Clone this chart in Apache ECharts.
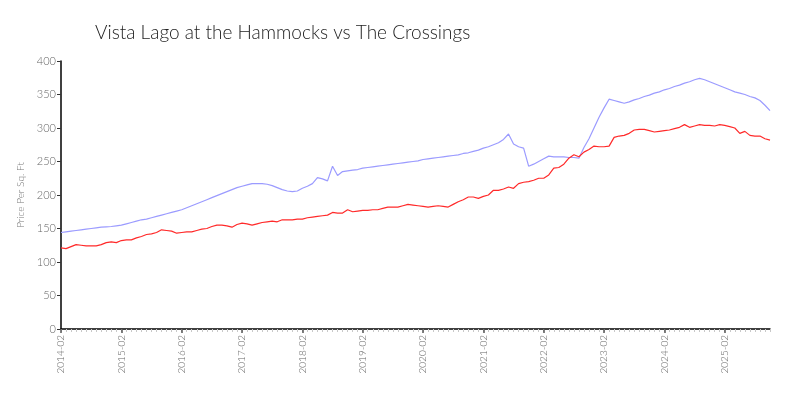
<!DOCTYPE html>
<html>
<head>
<meta charset="utf-8">
<script src="https://cdn.jsdelivr.net/npm/echarts@6/dist/echarts.min.js"></script>
<style>html,body{margin:0;padding:0;background:#fff}#c{width:800px;height:400px}</style>
</head>
<body>
<div id="c"></div>
<script>
// Monthly categories 2014-02 .. 2025-11
const categories = [];
for (let y = 2014; y <= 2025; y++) {
  for (let m = 1; m <= 12; m++) {
    if (y === 2014 && m < 2) continue;
    if (y === 2025 && m > 11) continue;
    categories.push(y + '-' + String(m).padStart(2, '0'));
  }
}

const seriesBlueName = 'Vista Lago at the Hammocks';
const seriesRedName = 'The Crossings';

const blueValues = [
  144,145,146,147,148,149,150,151,152,152.5,153,154,
  155,157,159,161,163,164,166,168,170,172,174,176,
  178,181,184,187,190,193,196,199,202,205,208,211,
  213,215,217,217,217,216,214,211,208,206,205,206,
  210,213,217,226,224,221,243,229,235,236,237,238,
  240,241,242,243,244,245,246,247,248,249,250,251,
  253,254,255,256,257,258,259,260,262,263,265,267,
  270,272,275,278,283,291,276,272,270,243,246,250,
  254,258,257,257,257,256,256,255,271,284,300,316,
  330,343,341,339,337,339,342,344,347,349,352,354,
  357,359,362,364,367,369,372,374,372,369,366,363,
  360,357,354,352,350,347,345,341,334,326
];

const redValues = [
  121,120,123,126,125,124,124,124,126,129,130,129,
  132,133,133,136,138,141,142,144,148,147,146,143,
  144,145,145,147,149,150,153,155,155,154,152,156,
  158,157,155,157,159,160,161,160,163,163,163,164,
  164,166,167,168,169,170,174,173,173,178,175,176,
  177,177,178,178,180,182,182,182,184,186,185,184,
  183,182,183,184,183,182,186,190,193,197,197,195,
  198,200,207,207,209,212,210,217,219,220,222,225,
  225,230,240,241,246,255,260,257,264,268,273,272,
  272,273,286,288,289,292,297,298,298,296,294,295,
  296,297,299,301,305,301,303,305,304,304,303,305,
  304,302,300,292,295,289,288,288,284,282
];

const yTicks = { min: 0, max: 400, interval: 50 };

const chart = echarts.init(document.getElementById('c'), null, { renderer: 'canvas' });
const fontFam = "Lato, 'Open Sans', sans-serif";
chart.setOption({
  animation: false,
  backgroundColor: '#ffffff',
  title: {
    text: 'Vista Lago at the Hammocks vs The Crossings',
    left: 90, top: 18,
    textStyle: { fontFamily: fontFam, fontWeight: 300, fontSize: 19, color: '#222' }
  },
  grid: { left: 61, right: 30, top: 61, bottom: 71 },
  xAxis: [{
    type: 'category',
    data: categories,
    boundaryGap: false,
    axisLine: { lineStyle: { color: '#000', width: 1.5 } },
    axisTick: { show: true, interval: 0, length: 3, lineStyle: { color: '#c8c8c8', width: 1 } },
    axisLabel: { interval: 11, rotate: 90, fontFamily: fontFam, fontWeight: 300, fontSize: 10, color: '#666', margin: 6 },
    splitLine: { show: false }
  }, {
    type: 'category',
    data: categories,
    boundaryGap: false,
    position: 'bottom',
    axisLine: { show: false },
    axisTick: { show: true, interval: 11, length: 4, lineStyle: { color: '#555', width: 1.5 } },
    axisLabel: { show: false },
    splitLine: { show: false }
  }],
  yAxis: {
    type: 'value',
    min: yTicks.min, max: yTicks.max, interval: yTicks.interval,
    name: 'Price Per Sq. Ft',
    nameLocation: 'middle',
    nameGap: 27,
    nameTextStyle: { fontFamily: fontFam, fontWeight: 300, fontSize: 10, color: '#777' },
    axisLine: { show: true, lineStyle: { color: '#000', width: 1.5 } },
    axisTick: { show: true, length: 4, lineStyle: { color: '#333' } },
    axisLabel: { fontFamily: fontFam, fontWeight: 300, fontSize: 11, color: '#666', margin: 5 },
    splitLine: { show: false }
  },
  series: [{
    name: seriesBlueName,
    type: 'line',
    data: blueValues,
    showSymbol: false,
    symbol: 'none',
    lineStyle: { color: '#9b9bff', width: 1.2 },
    itemStyle: { color: '#9b9bff' }
  }, {
    name: seriesRedName,
    type: 'line',
    data: redValues,
    showSymbol: false,
    symbol: 'none',
    lineStyle: { color: '#ff2a2a', width: 1.2 },
    itemStyle: { color: '#ff2a2a' }
  }]
});
</script>
</body>
</html>
